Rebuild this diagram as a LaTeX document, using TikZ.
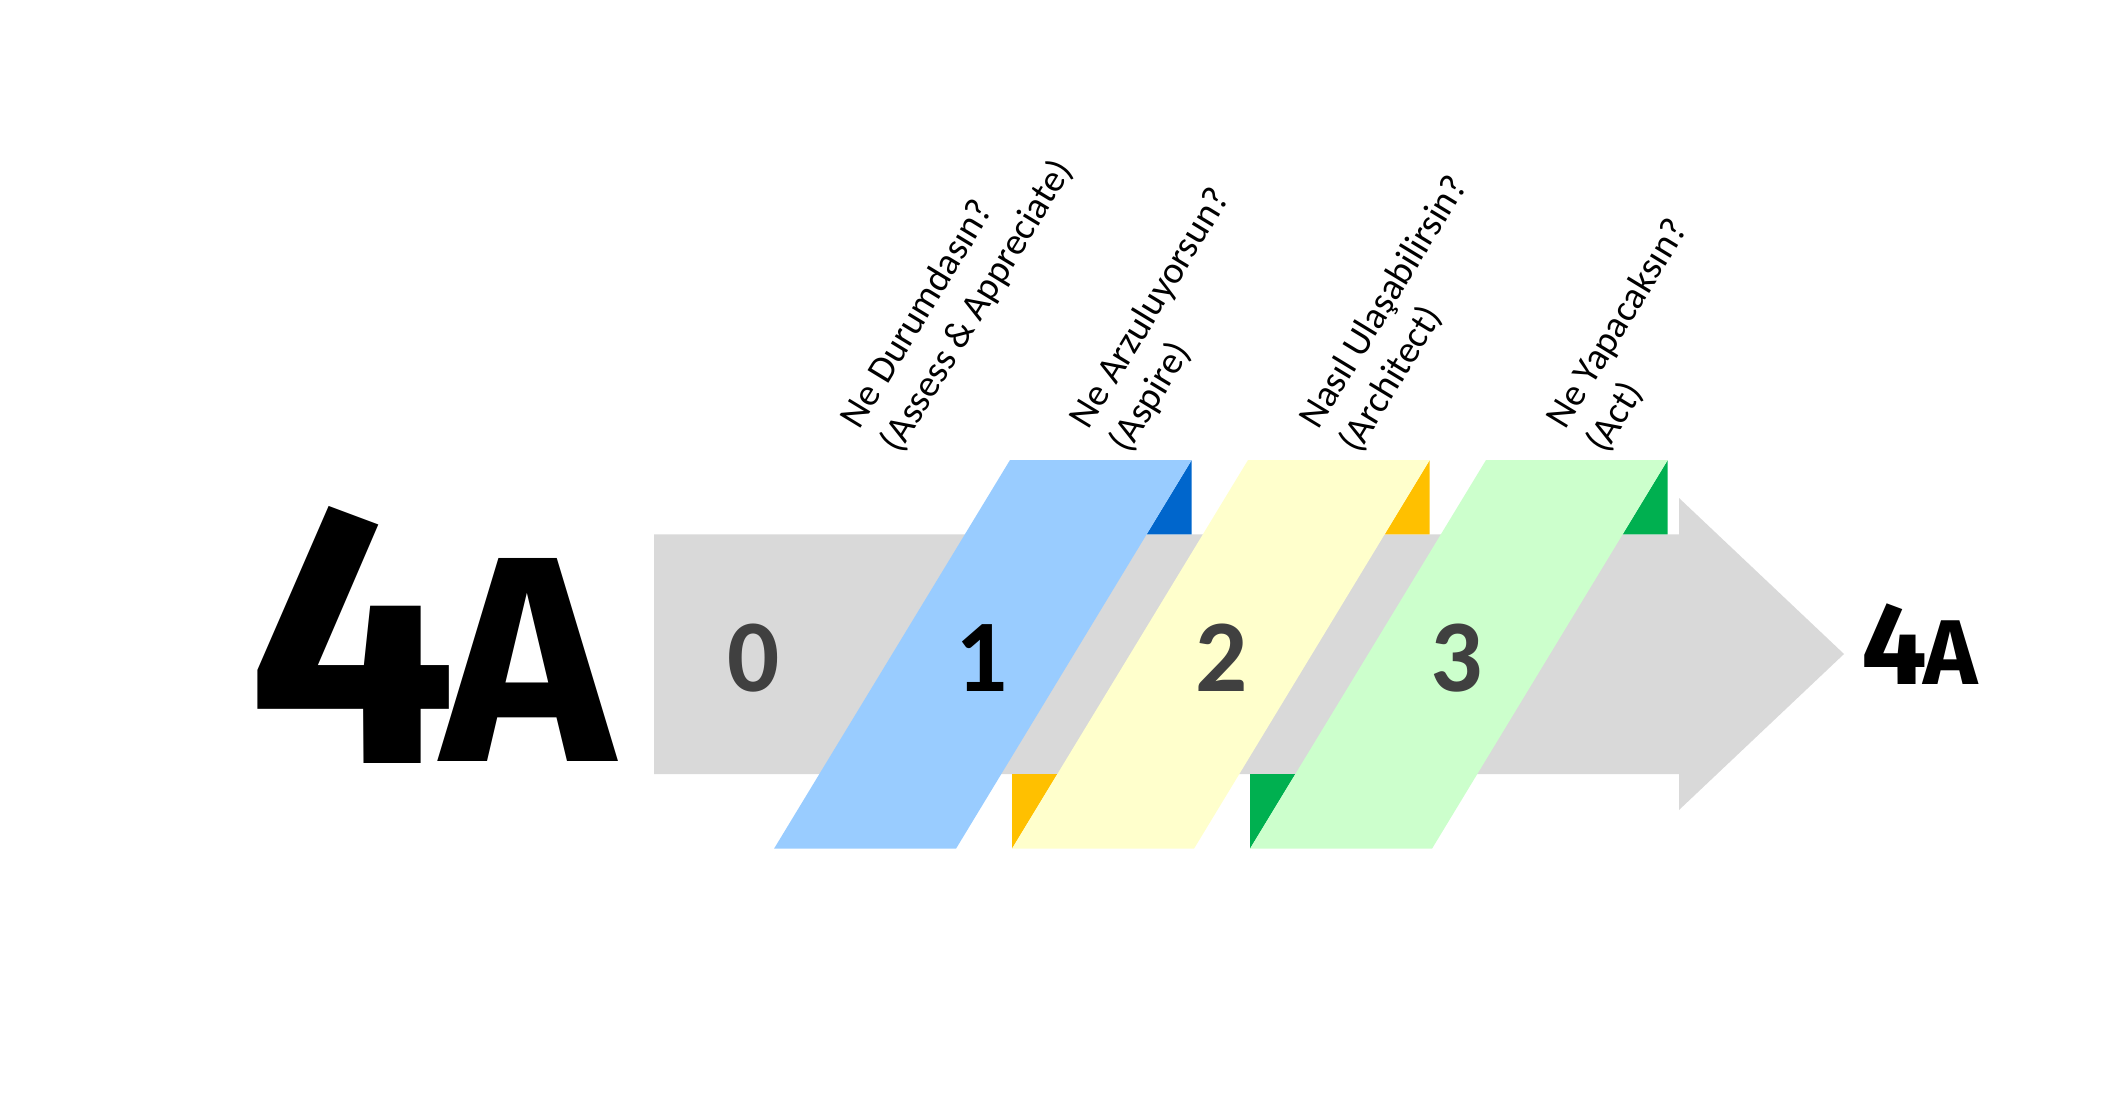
\documentclass[tikz,border=0pt]{standalone}
\usepackage{fontspec}
\setmainfont{Carlito}
\newfontfamily\firafont{Fira Sans}
\definecolor{arrowgray}{HTML}{D9D9D9}
\definecolor{lblue}{HTML}{99CCFF}
\definecolor{dblue}{HTML}{0066CC}
\definecolor{lyellow}{HTML}{FFFFCC}
\definecolor{dorange}{HTML}{FFC000}
\definecolor{lgreen}{HTML}{CCFFCC}
\definecolor{dgreen}{HTML}{00B050}
\definecolor{numgray}{HTML}{404040}
\tikzset{
  numlabel/.style={anchor=base,inner sep=0pt,font=\bfseries\fontsize{103}{104}\selectfont,text=numgray},
  steplabel/.style={anchor=south west,inner sep=0pt,rotate=58.7,align=left,font=\fontsize{38}{46.5}\selectfont},
  bigglyph/.style={anchor=base,inner sep=0pt}
}
\begin{document}
\begin{tikzpicture}[x=1pt,y=-1pt]
\useasboundingbox (0,0) rectangle (2114,1099);
% gray arrow
\fill[arrowgray] (654,534.3) -- (1679,534.3) -- (1679,498) -- (1844,654) -- (1679,810) -- (1679,774) -- (654,774) -- cycle;
% dark triangles (top right folds)
\fill[dblue]   (1191.7,460) -- (1191.7,534.3) -- (1146.6,534.3) -- cycle;
\fill[dorange] (1429.7,460) -- (1429.7,534.3) -- (1384.6,534.3) -- cycle;
\fill[dgreen]  (1667.7,460) -- (1667.7,534.3) -- (1622.6,534.3) -- cycle;
% dark triangles (bottom left folds)
\fill[dorange] (1012,774) -- (1057.4,774) -- (1012,848.7) -- cycle;
\fill[dgreen]  (1250,774) -- (1295.4,774) -- (1250,848.7) -- cycle;
% parallelograms
\fill[lblue]   (1010,460) -- (1191.7,460) -- (956,848.7) -- (774,848.7) -- cycle;
\fill[lyellow] (1248,460) -- (1429.7,460) -- (1194,848.7) -- (1012,848.7) -- cycle;
\fill[lgreen]  (1486,460) -- (1667.7,460) -- (1432,848.7) -- (1250,848.7) -- cycle;
% numbers
\node[numlabel] (n0) at (754,691) {0};
\node[numlabel,text=black] (n1) at (982,691) {1};
\node[numlabel] (n2) at (1222,691) {2};
\node[numlabel] (n3) at (1457,691) {3};
% labels
\node[steplabel] (l0) at (905,458) {Ne Durumdasın?\\(Assess \& Appreciate)};
\node[steplabel] (l1) at (1134,458) {Ne Arzuluyorsun?\\(Aspire)};
\node[steplabel] (l2) at (1363,458) {Nasıl Ulaşabilirsin?\\(Architect)};
\node[steplabel] (l3) at (1610,458) {Ne Yapacaksın?\\(Act)};
% big 4A
\node[bigglyph,font=\firafont\bfseries\fontsize{371}{371}\selectfont] (big4) at (352,763) {4};
\node[bigglyph,font=\firafont\bfseries\fontsize{293}{293}\selectfont] (bigA) at (528,761.5) {A};
% small 4A
\node[bigglyph,font=\firafont\bfseries\fontsize{116.5}{117}\selectfont] (sm4) at (1894,684) {4};
\node[bigglyph,font=\firafont\bfseries\fontsize{92}{92}\selectfont] (smA) at (1951,684) {A};
\end{tikzpicture}
\end{document}
